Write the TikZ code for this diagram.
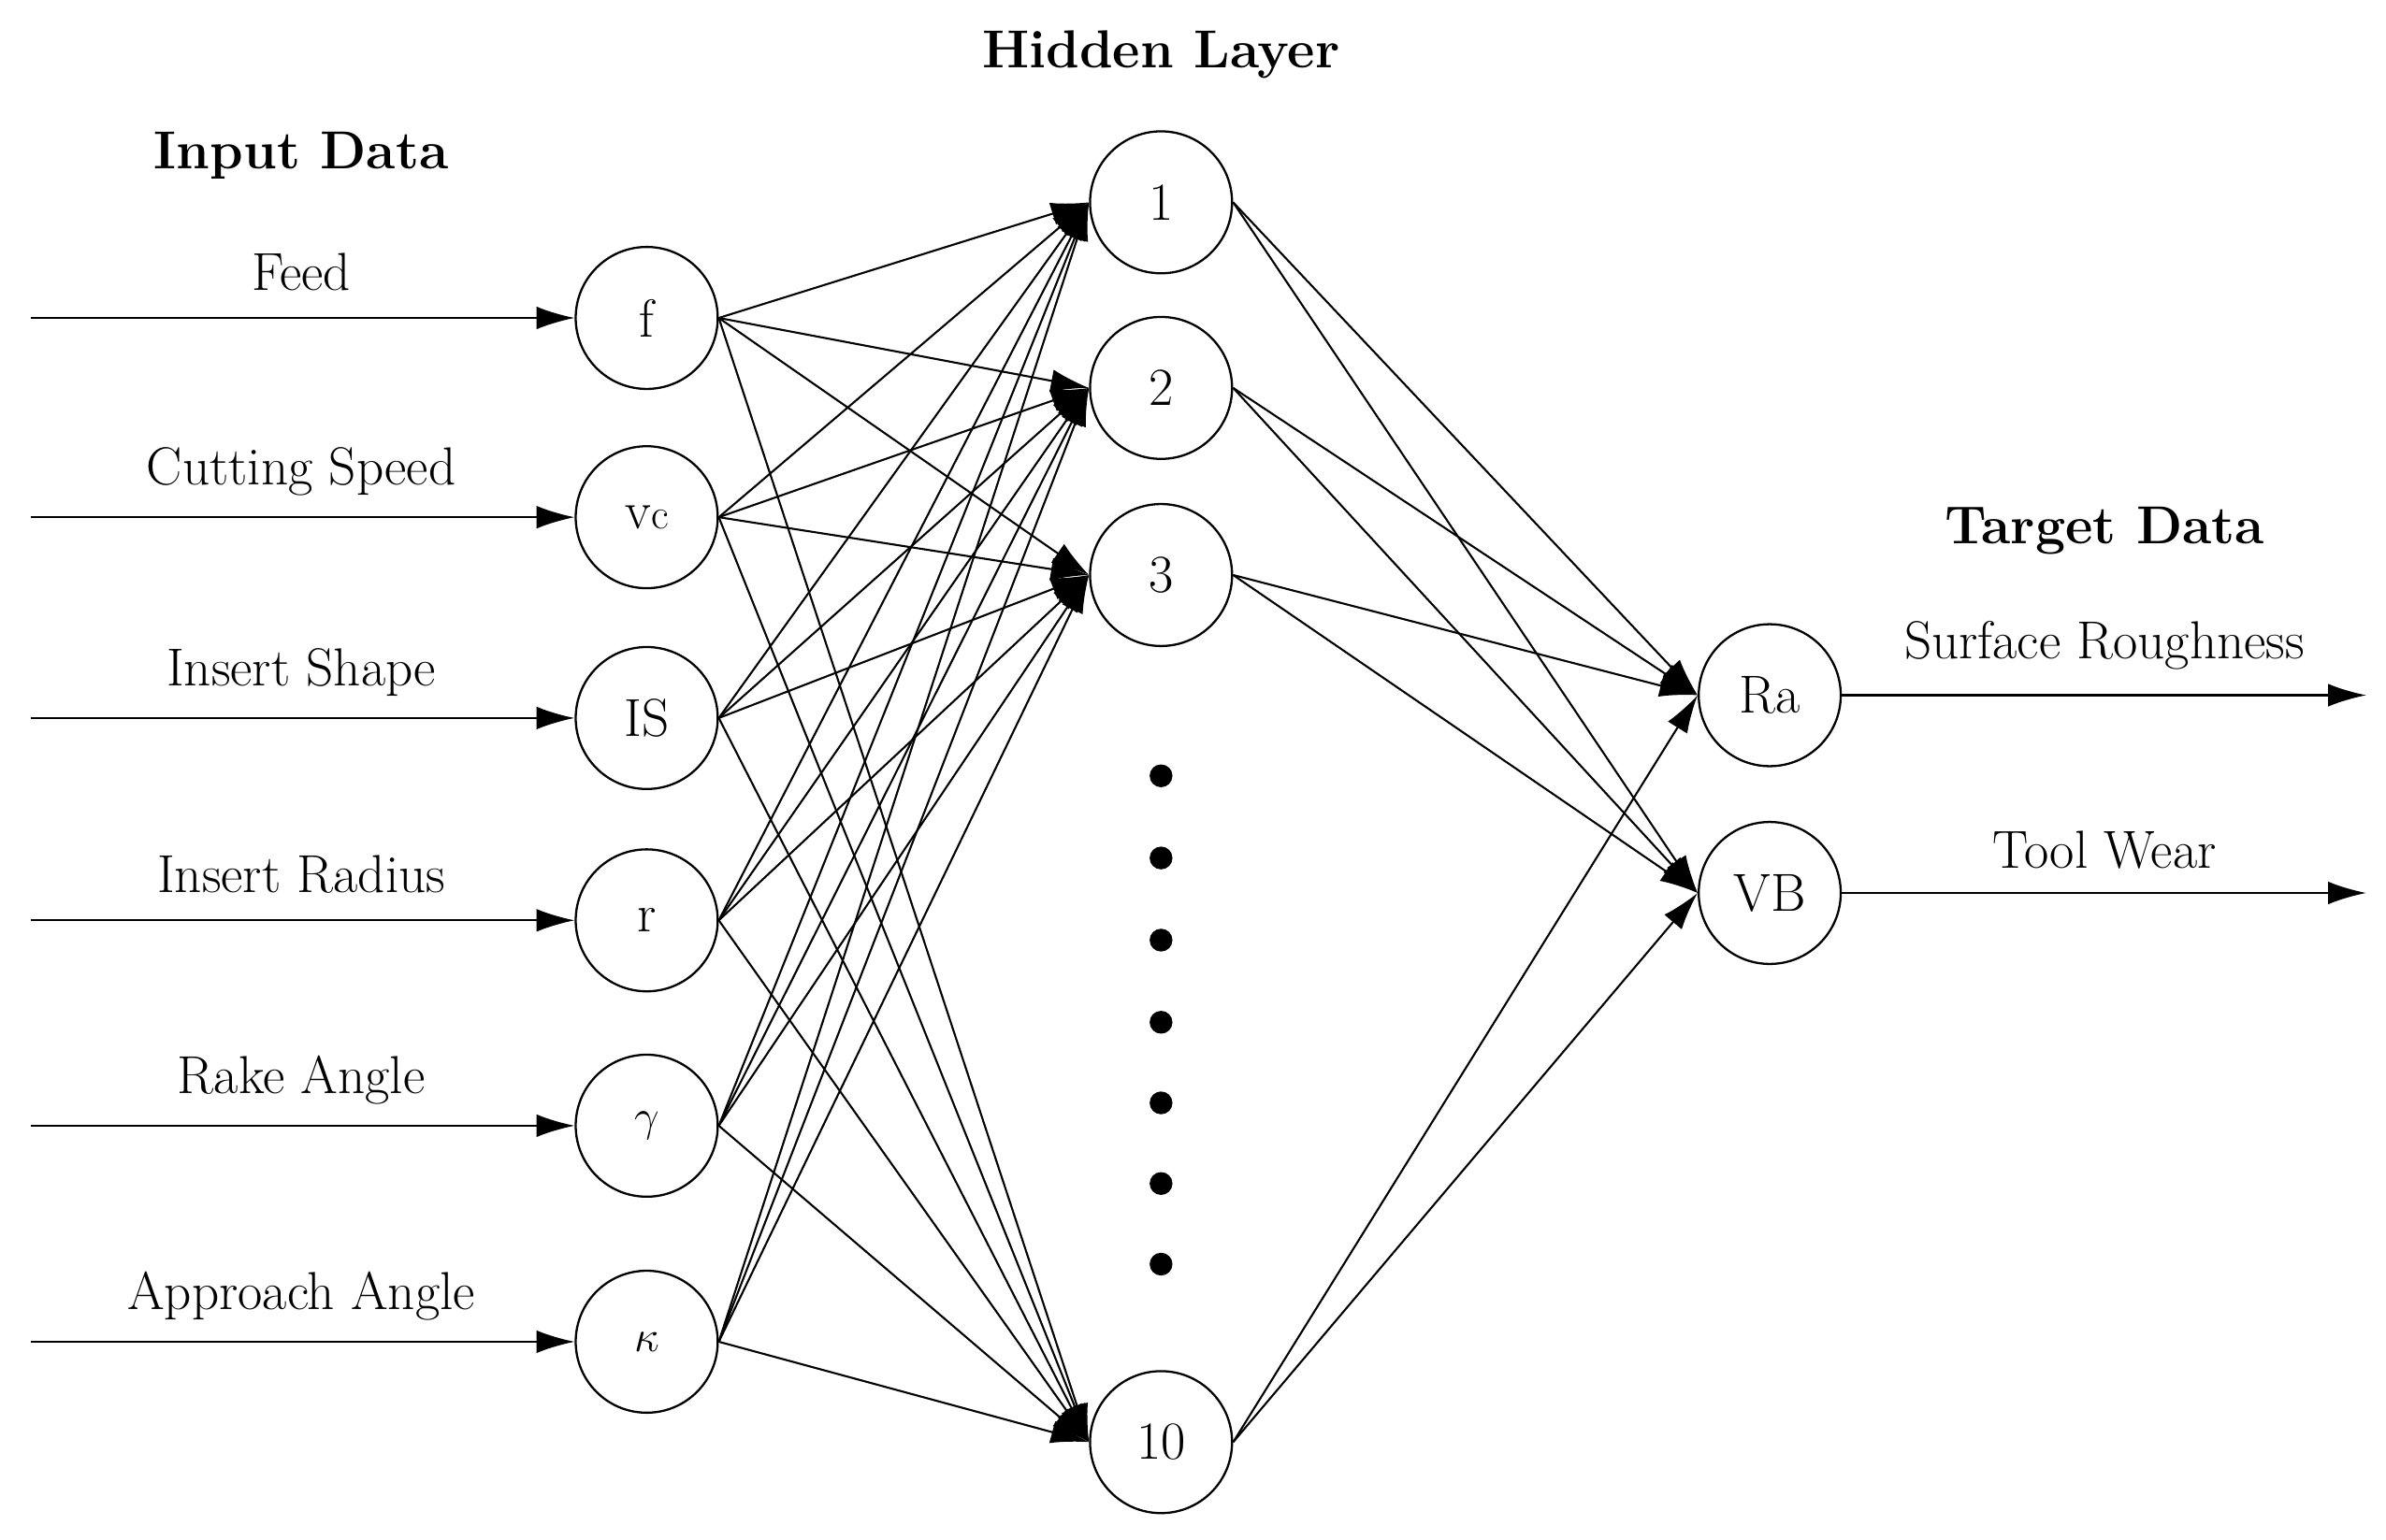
\documentclass[tikz,border=0pt]{standalone}
\usetikzlibrary{arrows.meta}
\begin{document}
\begin{tikzpicture}[x=0.03cm,y=-0.03cm,
  neu/.style={circle,draw,line width=1.2pt,minimum size=2.8cm,inner sep=0pt,font=\fontsize{30}{36}\selectfont},
  lab/.style={font=\fontsize{30}{36}\selectfont},
  ttl/.style={font=\fontsize{30}{36}\selectfont\bfseries},
  con/.style={line width=1.1pt,-{Latex[length=0.75cm,width=0.45cm]}},
  dot/.style={circle,fill,inner sep=0pt,minimum size=0.45cm}]
\useasboundingbox (0,0) rectangle (1568,1012);
\node[ttl] (tin) at (198,102) {Input Data};
\node[ttl] (thid) at (763,36) {Hidden Layer};
\node[ttl] (tout) at (1383,349) {Target Data};
\foreach \n/\t/\y/\l in {f/f/209/Feed, vc/{v\raisebox{0pt}{\fontsize{24}{28}\selectfont c}}/340/Cutting Speed, IS/IS/472/Insert Shape, r/r/605/Insert Radius, g/$\gamma$/740/Rake Angle, k/$\kappa$/882/Approach Angle}{
  \node[neu] (\n) at (425,\y) {\t};
  \coordinate (s\n) at (20,\y);
  \node[lab] (l\n) at (198,\y-30) {\l};
  \draw[con] (s\n) -- (\n);
}
\foreach \n/\y in {1/133,2/255,3/378,10/948}{\node[neu] (h\n) at (763,\y) {\n};}
\foreach \y [count=\i] in {510,564,618,672,725,778,831}{\node[dot] (d\i) at (763,\y) {};}
\node[neu] (Ra) at (1163,457) {Ra};
\node[neu] (VB) at (1163,587) {VB};
\foreach \a in {f,vc,IS,r,g,k}{\foreach \b in {1,2,3,10}{\draw[con] (\a.east) -- (h\b.west);}}
\foreach \b in {1,2,3,10}{\draw[con] (h\b.east) -- (Ra.west); \draw[con] (h\b.east) -- (VB.west);}
\coordinate (eRa) at (1555,457);
\coordinate (eVB) at (1555,587);
\draw[con] (Ra) -- (eRa);
\draw[con] (VB) -- (eVB);
\node[lab] (lRa) at (1383,424) {Surface Roughness};
\node[lab] (lVB) at (1383,559) {Tool Wear};
\end{tikzpicture}
\end{document}
